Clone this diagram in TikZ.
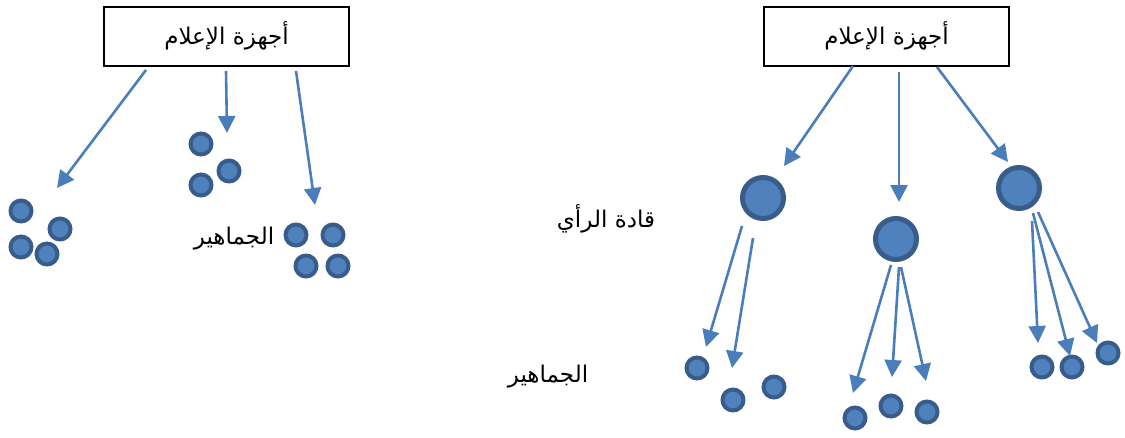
\documentclass[tikz,border=0pt]{standalone}
\usepackage{fontspec}
\usetikzlibrary{arrows.meta}
\TeXXeTstate=1
\newfontfamily\arabicfont[Script=Arabic]{DejaVu Sans}
\definecolor{dotfill}{HTML}{4F81BD}
\definecolor{dotedge}{HTML}{385D8A}
\definecolor{arrowblue}{HTML}{4A7EBB}
\tikzset{
  mediabox/.style={draw=black, line width=1.8pt, fill=white, minimum width=245pt, minimum height=59pt, inner sep=0pt},
  label/.style={font=\arabicfont\fontsize{23}{26}\selectfont, inner sep=0pt},
  crowd/.style={circle, fill=dotfill, draw=dotedge, line width=4pt, minimum size=21pt, inner sep=0pt},
  leader/.style={circle, fill=dotfill, draw=dotedge, line width=5pt, minimum size=41pt, inner sep=0pt},
  flow/.style={draw=arrowblue, line width=2.6pt, -{Triangle[length=17pt,width=17pt]}}
}
\begin{document}
\begin{tikzpicture}[x=1pt,y=-1pt]
\useasboundingbox (0,0) rectangle (1125,437);

% ---- one-step flow (left) ----
\node[mediabox] (boxL) at (226.5,36.5) {};
\node[label] (titleL) at (226.5,36) {\beginR أجهزة الإعلام\endR};

\node[crowd] (a1) at (201,144) {};
\node[crowd] (a2) at (229,171) {};
\node[crowd] (a3) at (201,185) {};
\node[crowd] (b1) at (21,211) {};
\node[crowd] (b2) at (60,229) {};
\node[crowd] (b3) at (21,247) {};
\node[crowd] (b4) at (47,254) {};
\node[crowd] (c1) at (296,235) {};
\node[crowd] (c2) at (333,235) {};
\node[crowd] (c3) at (306,266) {};
\node[crowd] (c4) at (338,266) {};
\node[label] (publicL) at (234,239) {\beginR الجماهير\endR};

\coordinate (sL1) at (146,70);  \coordinate (tL1) at (57,188);
\coordinate (sL2) at (226,71);  \coordinate (tL2) at (227,133);
\coordinate (sL3) at (296,71);  \coordinate (tL3) at (315,205);
\draw[flow] (sL1) -- (tL1);
\draw[flow] (sL2) -- (tL2);
\draw[flow] (sL3) -- (tL3);

% ---- two-step flow (right) ----
\node[mediabox] (boxR) at (886.5,36.5) {};
\node[label] (titleR) at (886.5,36) {\beginR أجهزة الإعلام\endR};

\node[leader] (L1) at (763,198) {};
\node[leader] (L2) at (896,239) {};
\node[leader] (L3) at (1019,188) {};

\node[label] (opinion) at (606,219) {\beginR قادة الرأي\endR};
\node[label] (publicR) at (548,377) {\beginR الجماهير\endR};

\coordinate (sR1) at (853,66);  \coordinate (tR1) at (784,166);
\coordinate (sR2) at (899,72);  \coordinate (tR2) at (899,202);
\coordinate (sR3) at (937,67);  \coordinate (tR3) at (1008,162);
\draw[flow] (sR1) -- (tR1);
\draw[flow] (sR2) -- (tR2);
\draw[flow] (sR3) -- (tR3);

\node[crowd] (p1) at (697,368) {};
\node[crowd] (p2) at (733,400) {};
\node[crowd] (p3) at (774,387) {};
\node[crowd] (q1) at (855,418) {};
\node[crowd] (q2) at (891,406) {};
\node[crowd] (q3) at (927,412) {};
\node[crowd] (r1) at (1042,367) {};
\node[crowd] (r2) at (1072,367) {};
\node[crowd] (r3) at (1108,353) {};

\coordinate (u1) at (742,226);  \coordinate (v1) at (706,347);
\coordinate (u2) at (753,238);  \coordinate (v2) at (732,368);
\coordinate (u3) at (891,265);  \coordinate (v3) at (853,393);
\coordinate (u4) at (899,267);  \coordinate (v4) at (892,377);
\coordinate (u5) at (901,267);  \coordinate (v5) at (926,381);
\coordinate (u6) at (1032,221); \coordinate (v6) at (1038,343);
\coordinate (u7) at (1033,213); \coordinate (v7) at (1070,356);
\coordinate (u8) at (1038,212); \coordinate (v8) at (1097,343);
\foreach \i in {1,...,8} \draw[flow] (u\i) -- (v\i);
\end{tikzpicture}
\end{document}
